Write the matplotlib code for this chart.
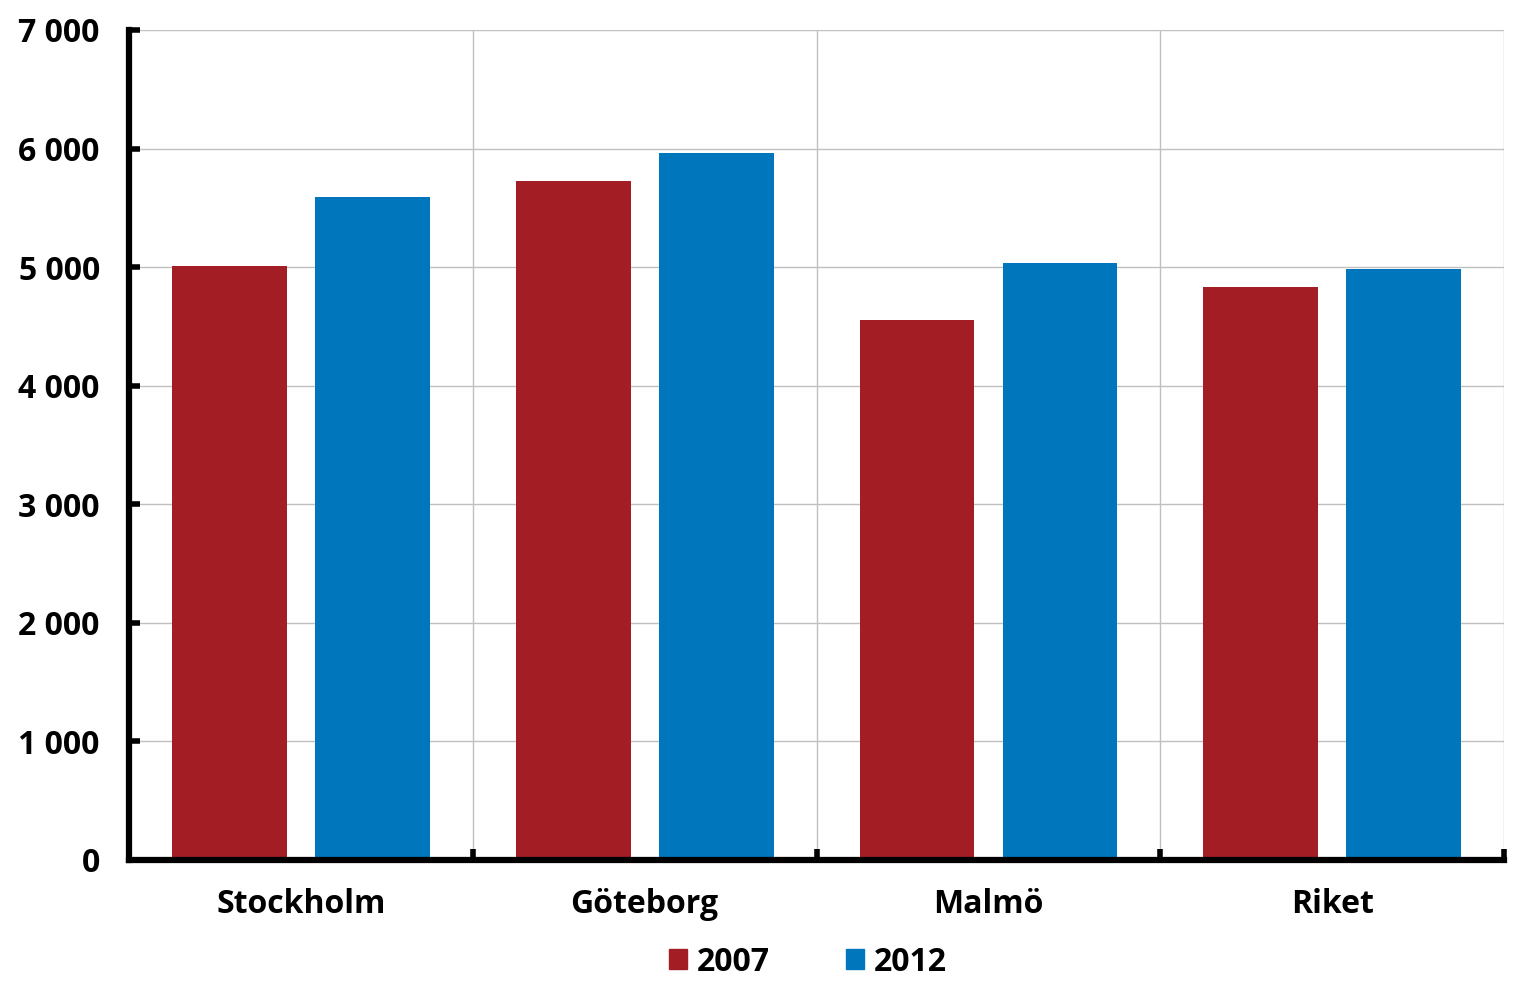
import matplotlib

matplotlib.use("Agg")
import matplotlib.pyplot as plt
import numpy as np
from matplotlib.patches import Patch
from matplotlib.ticker import FuncFormatter, MultipleLocator

plt.rcParams.update(
    {
        "font.family": ["Open Sans", "DejaVu Sans"],
        "font.weight": "bold",
        "figure.facecolor": "white",
        "savefig.facecolor": "white",
    }
)

categories = ["Stockholm", "Göteborg", "Malmö", "Riket"]
series_names = ["2007", "2012"]
values_2007 = [5010, 5725, 4555, 4835]
values_2012 = [5590, 5965, 5035, 4985]
y_ticks = [0, 1000, 2000, 3000, 4000, 5000, 6000, 7000]

RED = "#A31D24"
BLUE = "#0077BD"
FS = 23

fig = plt.figure(figsize=(15.27, 9.98), dpi=100)
ax = fig.add_axes([0.0845, 0.1383, 0.9005, 0.8317])

x = np.arange(len(categories))
width = 0.334
offset = 0.208
ax.bar(x - offset, values_2007, width, color=RED, zorder=3)
ax.bar(x + offset, values_2012, width, color=BLUE, zorder=3)

ax.set_xlim(-0.5, len(categories) - 0.5)
ax.set_ylim(0, 7000)
ax.set_yticks(y_ticks)
ax.yaxis.set_major_formatter(FuncFormatter(lambda v, _: f"{int(v):,}".replace(",", " ")))
ax.set_xticks(x)
ax.set_xticklabels(categories)
ax.xaxis.set_minor_locator(MultipleLocator(1, offset=0.5))

ax.grid(axis="y", color="#c0c0c0", linewidth=1.0, zorder=0)
ax.grid(axis="x", which="minor", color="#c0c0c0", linewidth=1.0, zorder=0)
ax.grid(axis="x", which="major", visible=False)

for side in ["top", "right"]:
    ax.spines[side].set_visible(False)
for side in ["left", "bottom"]:
    ax.spines[side].set_linewidth(4.5)
    ax.spines[side].set_zorder(4)

ax.tick_params(axis="y", direction="in", length=8, width=4, labelsize=FS, pad=21)
ax.tick_params(axis="x", which="major", length=0, labelsize=FS, pad=20)
ax.tick_params(axis="x", which="minor", direction="in", length=8, width=4)
for lbl in ax.get_xticklabels() + ax.get_yticklabels():
    lbl.set_fontweight("bold")

handles = [Patch(color=RED, label=series_names[0]), Patch(color=BLUE, label=series_names[1])]
fig.legend(
    handles=handles,
    loc="center",
    bbox_to_anchor=(0.529, 0.036),
    ncol=2,
    frameon=False,
    prop={"size": FS, "weight": "bold"},
    handlelength=0.57,
    handleheight=0.57,
    handletextpad=0.3,
    columnspacing=2.4,
)

fig.savefig("out.png", dpi=100)
